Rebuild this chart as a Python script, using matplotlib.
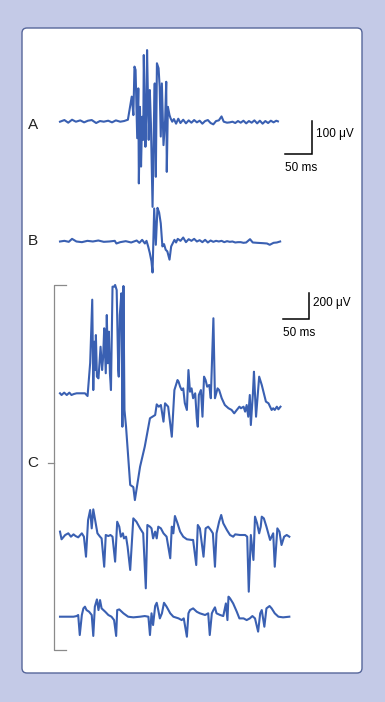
import matplotlib
matplotlib.use("Agg")
import matplotlib.pyplot as plt
from matplotlib.patches import FancyBboxPatch

plt.rcParams['font.family'] = ['Liberation Sans', 'DejaVu Sans']

# trace A (ms, uV)
a_t = [0, 8, 15, 22, 29, 37, 44, 51, 58, 66, 73, 80, 88, 95, 102, 110, 117, 124,
       131, 134, 136, 138, 141, 143, 144, 146, 148, 150, 152, 153, 156, 158, 159,
       162, 164, 166, 169, 172, 173, 175, 177, 180, 182, 184, 186, 189, 192, 194,
       195, 197, 200, 202, 205,
       208, 212, 216, 220, 225, 230, 235, 240, 245, 250, 255, 260, 265, 270, 275,
       280, 285, 290, 295, 299, 305, 310, 315, 320, 325, 330, 335, 340, 345, 350,
       355, 360, 365, 370, 375, 380, 385, 390, 395, 398]
a_v = [0, 5, -3, 6, 0, 4, -2, 3, 5, -4, 2, 0, 3, -2, 4, 0, 2, 6,
       76, 20, 167, 157, -50, 101, -187, 45, -136, 15, -55, 202, -76, 66, 217,
       -55, 96, -5, -258, 45, 116, -167, 177, 162, 106, -45, 116, -71, 5, 121,
       -152, 45, 20, 10, 0,
       8, -6, 9, -4, 6, -5, 4, -3, 5, -2, 3, -6, 2, 5, -4,
       -8, 2, 4, 16, 0, -3, -2, 0, -4, 2, -3, 3, -5, 2, -3,
       4, -5, 3, -6, 2, -4, 3, -2, 3, 1]

# trace B (ms, uV)
b_t = [0, 8, 16, 22, 30, 40, 50, 60, 70, 80, 90, 100, 103, 110, 120, 130, 140,
       145, 150, 155, 158, 161, 164, 167, 169, 172, 175, 178, 181, 184, 187, 190,
       193, 196, 200, 203, 206, 209, 212, 215, 220, 225, 230, 235, 240, 245, 250,
       255, 260, 265, 270, 275, 280, 285, 290, 295, 300, 305, 310, 315, 320, 325,
       330, 335, 340, 347, 352, 360, 370, 378, 383, 390, 396, 402]
b_v = [0, 2, -1, 8, 0, -2, 2, 0, 3, -1, 0, 2, -6, -2, 1, -3, 3,
       -4, 5, -6, 2, -15, -35, -60, -94, 100, -10, 102, 88, 55, -15, -8,
       -25, -30, -55, -15, -5, 5, -3, 8, 2, 12, -2, 7, 2, 8, 0,
       4, -2, 5, -3, 3, -1, 2, 0, 2, -2, 1, -1, 0, -3, -2,
       -2, -4, -3, 7, -3, -4, -5, -6, -10, -4, -3, 0]

# trace C1 (ms, uV)
c1_t = [0, 3, 8, 13, 18, 22, 27, 32, 38, 48, 53, 58, 62, 64, 66, 68, 69, 71,
        74, 78, 81, 83, 85, 88, 90, 92, 94, 96, 98, 101, 104, 106, 109, 112,
        113, 115, 118, 120, 122, 124, 127, 135, 141, 144, 154, 163, 173, 183,
        186, 190, 194, 199, 202, 208, 215, 220, 226, 228, 231, 234, 237, 240,
        244, 247, 250, 253, 256, 260, 263, 265, 267, 271, 274, 277, 280, 283,
        287, 290, 295, 298, 303, 306, 311, 317, 324, 330, 335, 340, 345, 348,
        353, 356, 359, 362, 365, 367, 371, 373, 377, 383, 388, 392, 396, 401,
        404, 407, 410, 413, 417, 420, 424]
c1_v = [0, -13, 5, -13, 5, -13, -5, 0, 0, 0, -21, 233, 720, 25, 397, 179, 448, 128,
        115, 358, 179, 281, 500, 154, 602, 231, 474, 154, 25, 820, 820, 833, 794, 179,
        128, 602, 769, -257, 825, -128, -257, -705, -721, -821, -564, -410, -192, -167,
        -85, -103, -90, -218, -77, -103, -334, 25, 102, 90, 51, 25, 38, -75,
        -128, 179, 12, 38, -38, 0, -192, -257, -13, 25, -180, 128, 102, 51,
        64, -38, 577, -38, 38, 25, -38, -90, -115, -128, -154, -128, -103, -115,
        -103, -141, -90, -180, -13, -244, 0, 166, -180, 128, 64, 0, -64, -77,
        -103, -128, -115, -128, -103, -123, -103]

# trace C2 (ms, uV)
c2_t = [0, 3, 10, 16, 21, 26, 30, 35, 42, 46, 50, 54, 58, 61, 64, 67, 72, 77,
        80, 85, 88, 93, 97, 101, 106, 110, 114, 117, 121, 123, 127, 130, 135, 141,
        147, 154, 160, 165, 168, 173, 176, 179, 183, 186, 189, 194, 199, 205, 212,
        215, 218, 221, 226, 231, 237, 244, 253, 256, 262, 265, 269, 276, 280, 285,
        290, 294, 298, 301, 306, 310, 314, 321, 327, 333, 337, 346, 356, 360, 363,
        367, 372, 375, 379, 383, 386, 388, 392, 397, 404, 410, 413, 418, 422, 426,
        431, 436, 441]
c2_v = [26, -33, 0, 13, -13, 5, -8, -18, 13, -13, -167, 115, 192, 51, 197, 128, 13, -13,
        -26, -244, 0, -8, 0, -13, -205, 102, 64, -13, 13, -26, -13, -90, -269, 128,
        102, 51, 13, -410, 77, 64, 51, -26, 26, -26, 64, 51, 13, -13, -179,
        64, 13, 146, 90, 26, -13, -33, -38, -38, -231, 77, 51, -167, 51, 64,
        38, 13, -244, 13, 102, 154, 90, 38, 0, -13, 5, 0, 0, -13, -436,
        0, -192, 141, 90, 13, 64, 141, 128, 64, -38, 13, -244, 51, 26, -77,
        -13, 0, -13]

# trace C3 (ms, uV)
c3_t = [0, 13, 26, 32, 35, 38, 42, 45, 48, 51, 56, 61, 64, 67, 71, 74, 77, 80,
        87, 93, 99, 104, 108, 110, 114, 122, 131, 141, 154, 163, 170, 173, 176, 179,
        183, 186, 189, 192, 196, 200, 205, 212, 218, 228, 234, 238, 244, 247, 250,
        256, 263, 269, 279, 285, 288, 292, 295, 298, 301, 308, 314, 319, 322, 324,
        327, 333, 340, 345, 353, 359, 365, 370, 375, 381, 385, 388, 390, 393, 397,
        403, 407, 413, 420, 429, 441]
c3_v = [0, 0, 0, 5, 13, -141, 13, 64, 77, 51, 38, 13, -148, 77, 133, 51, 128, 64,
        38, 13, 0, -26, -148, 51, 56, 26, 0, -5, 0, 5, 0, -141, 26, -64,
        82, 107, 51, -13, 26, 107, 77, 26, 0, -13, -26, -13, -154, 26, 51,
        64, 38, 26, 13, 26, -141, 26, 51, 72, 26, 13, 5, 102, -26, 154,
        141, 102, 38, -13, -13, -26, -13, 5, -13, -115, 26, 51, 0, -77, 64,
        82, 64, 26, 0, -5, 0]

W, H = 385, 702
blue = '#3a60b2'

fig = plt.figure(figsize=(W / 100, H / 100), dpi=100)
fig.patch.set_facecolor('#c4cae7')

bg = fig.add_axes([0, 0, 1, 1])
bg.set_xlim(0, W)
bg.set_ylim(H, 0)
bg.axis('off')
bg.add_patch(FancyBboxPatch((22, 28), 340, 645, boxstyle='round,pad=0,rounding_size=5',
                            facecolor='white', edgecolor='#56669a', linewidth=1.0))

for lab, y in [('A', 125), ('B', 241), ('C', 463)]:
    bg.text(33, y, lab, fontsize=11, ha='center', va='center', color='#222222')

# bracket for C
bg.plot([66, 54, 54, 66], [285, 285, 650, 650], color='#8a8a8a', lw=0.9)
bg.plot([48, 54], [463, 463], color='#8a8a8a', lw=0.9)


def trace_ax(x0, x1, y0, y1, ms_per_px, uv_per_px, base_y):
    ax = fig.add_axes([x0 / W, 1 - y1 / H, (x1 - x0) / W, (y1 - y0) / H])
    ax.set_xlim(0, (x1 - x0) * ms_per_px)
    ax.set_ylim((base_y - y1) * uv_per_px, (base_y - y0) * uv_per_px)
    ax.axis('off')
    return ax


def scale_bar(ax, t0, v0, dt, dv, vlabel):
    ax.plot([t0, t0 + dt, t0 + dt], [v0, v0, v0 + dv], color='black', lw=1.1,
            clip_on=False, solid_joinstyle='miter')
    ax.annotate(vlabel, (t0 + dt, v0 + dv * 0.6), xytext=(3, 0), textcoords='offset points',
                fontsize=8.5, va='center', ha='left', annotation_clip=False)
    ax.annotate('50 ms', (t0, v0), xytext=(0, -10), textcoords='offset points',
                fontsize=8.5, va='center', ha='left', annotation_clip=False)


kA = 1 / 0.5476
axA = trace_ax(60, 290, 40, 215, kA, 3.03, 121.7)
axA.plot(a_t, a_v, color=blue, lw=1.5, clip_on=False)
scale_bar(axA, 410, -98, 50, 100, '100 μV')

axB = trace_ax(60, 290, 200, 280, kA, 3.03, 241.5)
axB.plot(b_t, b_v, color=blue, lw=1.5, clip_on=False)

kC = 1 / 0.52
axC1 = trace_ax(60, 290, 280, 505, kC, 7.69, 393.3)
axC1.plot(c1_t, c1_v, color=blue, lw=1.5, clip_on=False)
scale_bar(axC1, 429, 571, 50, 200, '200 μV')

axC2 = trace_ax(60, 290, 505, 600, kC, 7.69, 535)
axC2.plot(c2_t, c2_v, color=blue, lw=1.5, clip_on=False)

axC3 = trace_ax(60, 290, 590, 645, kC, 7.69, 616.7)
axC3.plot(c3_t, c3_v, color=blue, lw=1.5, clip_on=False)

fig.savefig('out.png', dpi=100, facecolor=fig.get_facecolor())
